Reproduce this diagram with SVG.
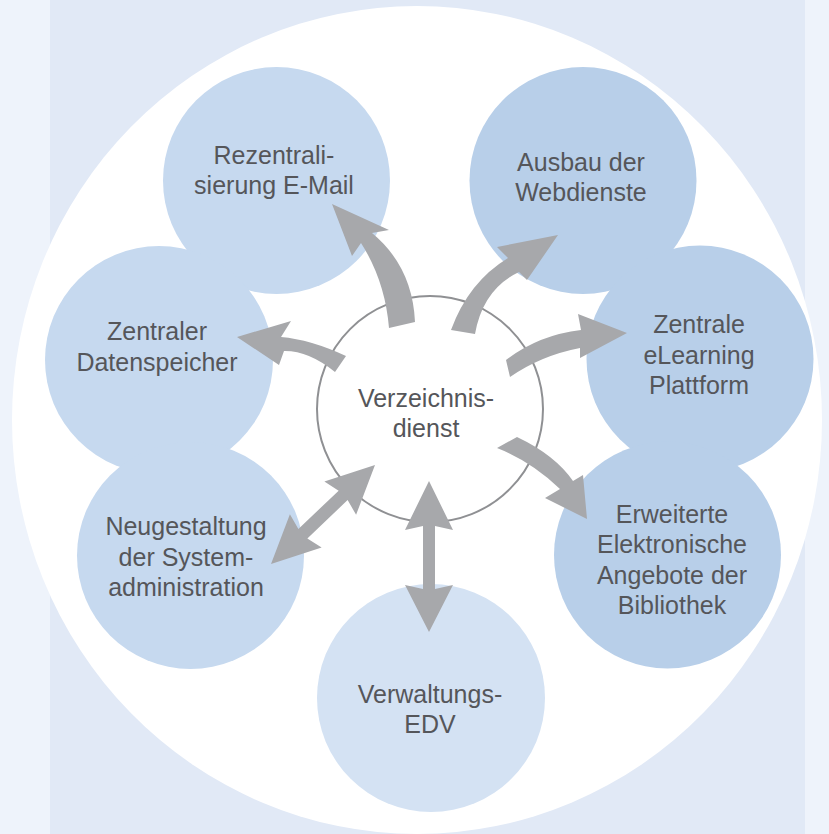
<svg xmlns="http://www.w3.org/2000/svg" width="829" height="834" viewBox="0 0 829 834">
<style>
.lt{fill:#c6d9ef}
.dk{fill:#b8cfe9}
.pl{fill:#d4e2f3}
.ctr{fill:#ffffff;stroke:#8f9093;stroke-width:2}
.arr{fill:#a7a8ab}
text{font-family:"Liberation Sans",Arial,sans-serif;font-size:25px;fill:#55565a;text-anchor:middle}
</style>
<rect x="0" y="0" width="829" height="834" fill="#eef3fb"/>
<rect x="50" y="0" width="755" height="834" fill="#e1e9f6"/>
<ellipse cx="417" cy="420" rx="405" ry="414" fill="#ffffff"/>
<g id="node-rezentralisierung">
<circle class="lt" cx="276.5" cy="180.5" r="113.5"/>
<text x="274" y="164">Rezentrali-</text>
<text x="274" y="194">sierung E-Mail</text>
</g>
<g id="node-webdienste">
<circle class="dk" cx="583" cy="180.5" r="113.5"/>
<text x="581" y="171">Ausbau der</text>
<text x="581" y="201">Webdienste</text>
</g>
<g id="node-datenspeicher">
<circle class="lt" cx="159" cy="360" r="114"/>
<text x="157" y="340">Zentraler</text>
<text x="157" y="371">Datenspeicher</text>
</g>
<g id="node-plattform">
<circle class="dk" cx="700" cy="359" r="113.5"/>
<text x="699" y="333">Zentrale</text>
<text x="699" y="363.5">eLearning</text>
<text x="699" y="394">Plattform</text>
</g>
<g id="node-neugestaltung">
<circle class="lt" cx="190.5" cy="555.5" r="113.5"/>
<text x="186" y="535">Neugestaltung</text>
<text x="186" y="566">der System-</text>
<text x="186" y="596">administration</text>
</g>
<g id="node-bibliothek">
<circle class="dk" cx="667.5" cy="555" r="113.5"/>
<text x="672" y="523">Erweiterte</text>
<text x="672" y="553">Elektronische</text>
<text x="672" y="584">Angebote der</text>
<text x="672" y="614">Bibliothek</text>
</g>
<g id="node-verwaltung">
<circle class="pl" cx="431" cy="698" r="114"/>
<text x="430" y="703">Verwaltungs-</text>
<text x="430" y="733">EDV</text>
</g>
<g id="node-verzeichnisdienst">
<circle class="ctr" cx="430" cy="409" r="113"/>
<text x="426" y="407">Verzeichnis-</text>
<text x="426" y="437">dienst</text>
</g>
<g id="connectors">
<path class="arr" d="M389,328 Q385,280.5 361,243 L352,256 L332,204 L389,230 L372,233 Q412.5,266.5 415,322 Z"/>
<path class="arr" d="M451,330 Q468.5,282 508,258 L497,247 L558,235 L527,280 L519,272 Q483,289 475,334 Z"/>
<path class="arr" d="M346,356 Q310.5,339.5 281,337 L291,321 L237,337 L279,365 L284,351 Q308.5,350.5 335,372 Z"/>
<path class="arr" d="M506,360 Q538.5,335 581,330 L578,314 L627,333 L580,358 L580,348 Q541,355.5 510,377 Z"/>
<path class="arr" d="M517,437 Q555,455 573,481 L583,475 L587,519 L545,498 L560,489 Q531.5,461.5 497,448 Z"/>
<polygon class="arr" transform="translate(375,465) rotate(136.4)" points="0,0 48,-23 44,-6.5 99.6,-6.5 95.6,-23 143.6,0 95.6,23 99.6,6.5 44,6.5 48,23"/>
<polygon class="arr" points="429,481 453,530 435,526 435,589 453,585 429,632 405,585 423,589 423,526 405,530"/>
</g>
</svg>
